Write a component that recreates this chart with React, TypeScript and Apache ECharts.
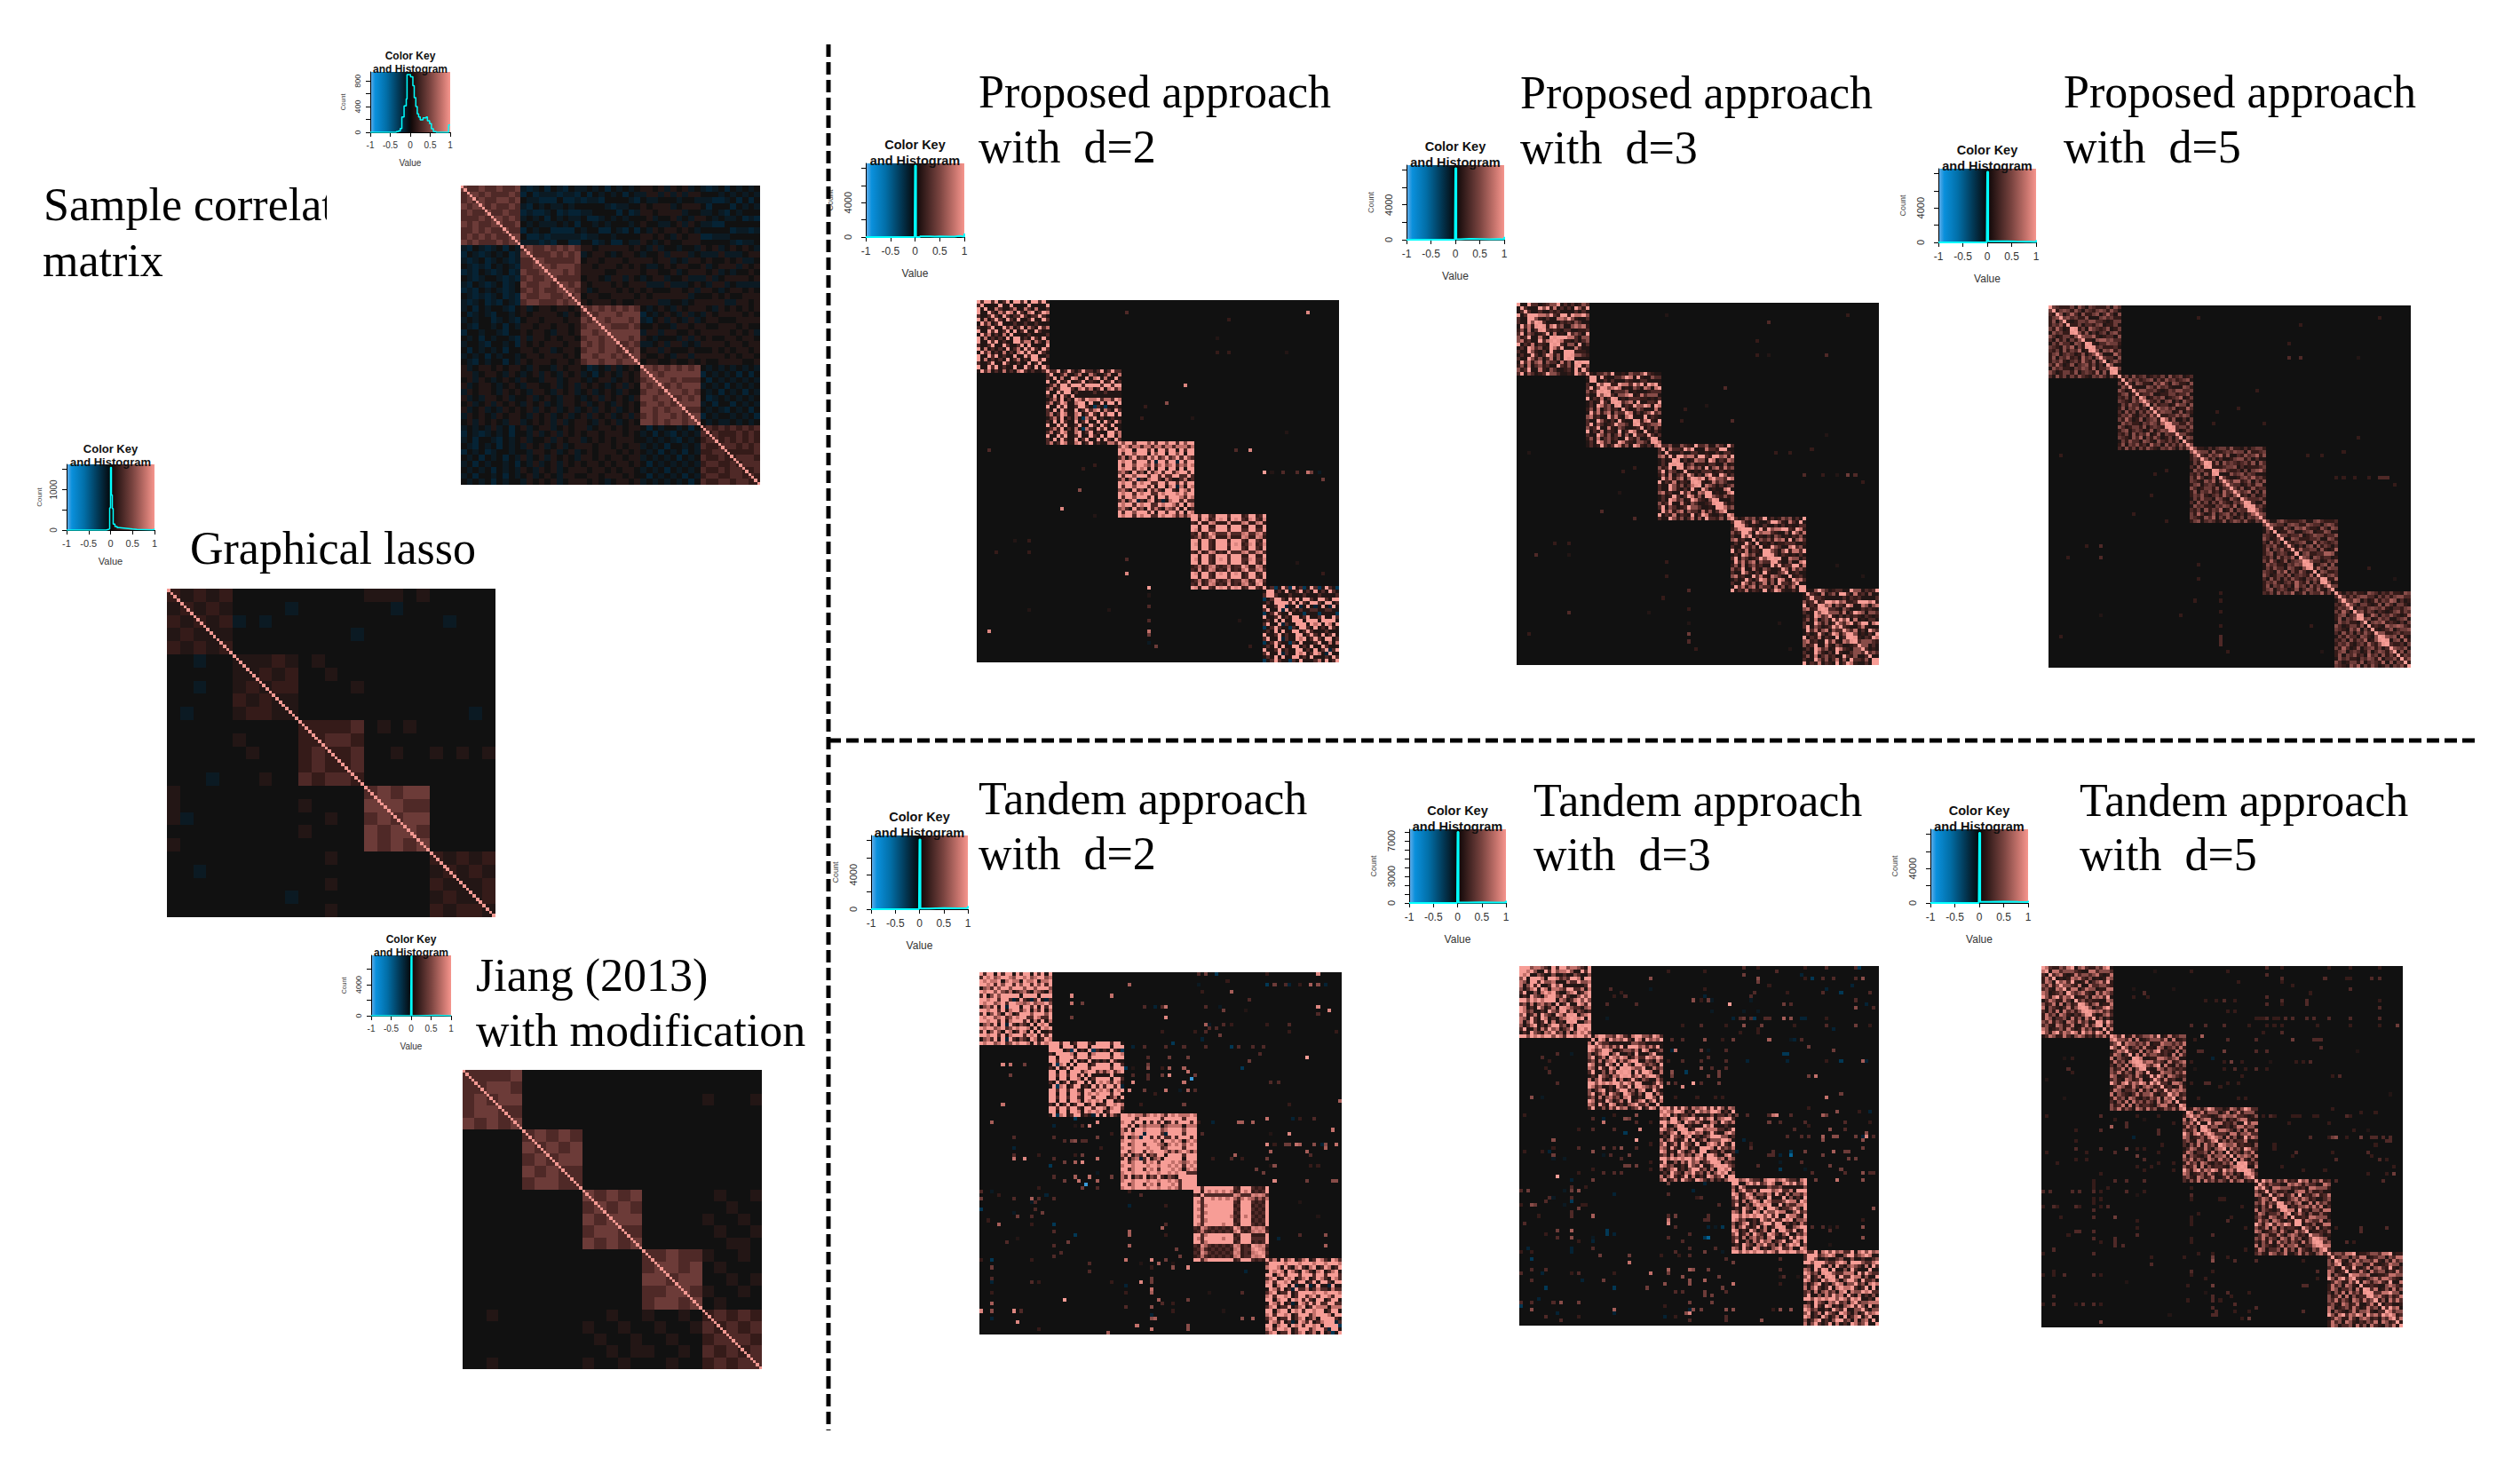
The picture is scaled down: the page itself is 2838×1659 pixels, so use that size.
import React, { useEffect, useRef } from "react";
import * as echarts from "echarts";

// Correlation levels: digit d means d/9, letters are negative values.
const NEGATIVE: Record<string, number> = { a: -0.1, b: -0.2, c: -0.35, d: -0.6, e: -0.9 };
const BLOCK_STARTS = [0, 19, 39, 59, 79];
const COLOR_SCALE = ["#5aa9e6", "#0680c0", "#025078", "#02283e", "#111111", "#3a1c1a", "#7a4440", "#bb6a64", "#f79d96"];

// Each block: a small dictionary of estimated rows (r) and which row each position uses (t). The matrix is symmetric.
type Block = { r: string[]; t: string };
const P2_B: Block[] = [
  { r: ["91193 91311 91193 191139", "31139 11931 13119 131191", "91713 13191 37131 971119", "19371 31713 17931 311371"], t: "012012310320123021032" },
  { r: ["91193 91139 11931 919119", "31919 31191 39119 193191", "37139 71179 13913 117739", "13729 13171 c7319 371371"], t: "021032013201231032012" },
  { r: ["93995 99939 19939 939199", "57319 35193 73175 391731", "97993 97993 39799 737379", "37159 b3179 13b17 919b71"], t: "012032021032012032102" },
  { r: ["99299 32999 39992 399329", "32823 87232 82327 832872", "98299 32989 39892 399329", "23723 78323 72338 723783"], t: "021021302010203120312" },
  { r: ["91139 13119 91319 131939", "13191 91199 13191 113191", "39119 b3119 79139 71b319", "c1393 11c31 91113 719139"], t: "012310230123102310213" },
];
const T2_B: Block[] = [
  { r: ["97995 79359 79971 939799", "39159 51971 39719 153953", "99799 39179 99397 919399", "15739 19b93 15319 713c17"], t: "010230120321023012301" },
  { r: ["99399 39931 99399 717939", "31913 91399 13913 391391", "99199 19971 97979 139997", "19c79 13991 31b91 917319"], t: "020120312021302021023" },
  { r: ["99379 93979 39997 939979", "73915 39153 93153 191539", "79979 99799 79979 739997", "39157 b3915 71399 1b3513"], t: "102012320201302021202" },
  { r: ["99379 99999 92399 932329", "32863 23232 38723 278782", "97399 99979 93299 973239", "23732 32323 27823 387873"], t: "021020202021302013130" },
  { r: ["99179 91979 39979 199739", "37913 39137 91371 913c17", "79399 79139 99379 93b979", "19739 13b19 73913 791319"], t: "012301203120310213021" },
];
const P3_ROWS = ["52391 17215 31123 192351", "31195 21319 21135 531215", "91327 13219 13972 113192", "25171 35231 19325 113153", "13129 31397 25197 213179", "39153 12395 53112 195327", "31195 25137 15193 325171", "57231 19372 17531 172397", "13197 35129 73215 531713", "19372 57153 31725 137125"];
const P5_ROWS = ["24352 13426 32514 253142", "32415 24361 25143 362415", "53124 42513 43261 514324", "14253 31542 15324 241536", "42631 25134 52413 136245", "25143 52316 34152 425313", "31524 14253 21435 314251", "43215 36142 53124 143526", "15342 21435 42613 352141", "24513 43125 13542 521436"];
const T3_ROWS = ["97351 13195 39115 573591", "35171 57351 79113 197159", "71593 13917 13197 359113", "59137 19531 97315 131597", "13195 31759 35171 597135", "97131 95137 19137 915179", "39115 17395 71359 139715", "75193 19713 15793 371153", "51379 13159 93517 157131", "99597 97995 97399 799579"];
const T5_ROWS = ["53725 31752 73512 536271", "27351 75213 25371 752315", "71532 13725 57213 371526", "35217 52371 13725 215737", "13752 27315 75231 537213", "52371 71523 32157 723152", "27513 35172 51732 153727", "75123 52731 27351 315725", "31527 17352 53172 571326", "95279 37597 29573 972957"];
const P3_T = ["048261935072814693051", "739150624839715026384", "261748053926174805926", "859301746285930174692", "594027183659427081362"];
const P5_T = ["371950482637195048263", "604829173560482917356", "925036814792503681479", "148372605914837260591", "763104958276310495827"];
const T3_T = ["190372864915037286491", "642908315764290831576", "375196084237519608423", "908253164790825316479", "216947035821694703582"];
const T5_T = ["528160379452816037945", "073946218507394621850", "846201597384620159738", "319574082631957408263", "685037294168503729416"];

// Cells beside the diagonal that are bright, [position] means (i, i-1).
const P3_NEAR = [6, 7, 10, 11, 15, 17, 24, 25, 27, 28, 33, 38, 44, 45, 49, 50, 55, 62, 70, 71, 84, 85, 93];
const P5_NEAR = [7, 11, 12, 18, 33, 34, 44, 46, 55, 56, 71, 72, 76, 86, 92, 93];
const T3_NEAR = [12, 14, 15, 17, 29, 30, 33, 45, 46, 55, 56, 72, 73, 85, 86, 87];
const T5_NEAR = [11, 12, 13, 16, 26, 27, 28, 45, 55, 56, 57, 66, 67, 76, 77, 90, 91];

// Isolated cells outside the blocks, [row, column, level], mirrored over the diagonal.
const P2_OUT: [number, number, string][] = [[3,41,"3"],[3,91,"8"],[5,69,"2"],[10,66,"1"],[14,66,"2"],[14,69,"2"],[14,85,"1"],[23,57,"8"],[28,52,"5"],[29,46,"2"],[32,45,"2"],[32,59,"1"],[36,85,"1"],[41,71,"3"],[41,75,"8"],[47,79,"9"],[47,81,"1"],[47,84,"3"],[47,88,"3"],[47,91,"7"],[47,92,"4"],[47,94,"a"],[49,95,"4"],[72,88,"1"],[75,95,"2"]];
const P3_OUT: [number, number, string][] = [[3,41,"1"],[3,91,"2"],[5,69,"3"],[10,66,"2"],[14,66,"2"],[14,69,"1"],[14,85,"3"],[23,57,"3"],[28,52,"1"],[29,46,"2"],[32,45,"2"],[32,59,"3"],[36,85,"1"],[41,71,"2"],[41,75,"2"],[40,81,"2"],[47,79,"3"],[47,84,"2"],[47,88,"1"],[47,91,"4"],[47,93,"3"],[49,95,"2"],[72,88,"1"],[75,95,"1"]];
const P5_OUT: [number, number, string][] = [[3,41,"2"],[3,91,"2"],[5,69,"2"],[10,66,"2"],[14,66,"3"],[14,69,"3"],[14,85,"1"],[23,57,"2"],[28,52,"2"],[29,46,"2"],[32,45,"2"],[32,59,"2"],[36,85,"2"],[41,71,"2"],[41,75,"2"],[40,81,"2"],[47,79,"2"],[47,81,"2"],[47,84,"2"],[47,88,"2"],[47,91,"3"],[47,92,"3"],[47,93,"3"],[49,95,"2"],[72,88,"2"],[75,95,"1"]];
const T2_OUT: [number, number, string][] = [[3,41,"6"],[3,60,"a"],[3,79,"c"],[3,81,"4"],[3,84,"3"],[3,85,"b"],[3,88,"2"],[3,91,"6"],[3,93,"5"],[3,95,"b"],[0,60,"3"],[0,62,"4"],[0,65,"c"],[0,79,"2"],[0,93,"8"],[2,68,"2"],[6,25,"8"],[6,36,"7"],[8,25,"7"],[8,28,"4"],[5,69,"6"],[5,61,"2"],[7,74,"3"],[9,45,"3"],[9,48,"b"],[9,50,"3"],[9,51,"7"],[9,62,"3"],[9,66,"a"],[9,93,"8"],[12,25,"4"],[12,51,"8"],[10,67,"4"],[10,73,"1"],[10,96,"8"],[11,93,"3"],[14,62,"6"],[14,63,"a"],[14,67,"3"],[14,69,"2"],[14,79,"2"],[14,85,"3"],[16,62,"3"],[15,63,"3"],[15,65,"3"],[16,50,"2"],[16,59,"2"],[16,85,"2"],[16,98,"2"],[17,66,"4"],[18,61,"b"],[20,42,"b"],[20,45,"3"],[20,51,"3"],[19,53,"c"],[20,56,"3"],[20,62,"3"],[20,69,"c"],[20,71,"3"],[20,75,"3"],[20,78,"3"],[22,77,"3"],[23,46,"3"],[23,52,"4"],[23,57,"4"],[23,90,"9"],[24,74,"4"],[25,46,"4"],[26,72,"c"],[26,40,"c"],[26,42,"1"],[26,46,"5"],[26,50,"2"],[26,52,"6"],[26,56,"6"],[27,57,"7"],[28,42,"3"],[28,46,"3"],[28,50,"4"],[28,52,"8"],[28,59,"4"],[29,46,"3"],[30,56,"7"],[29,58,"e"],[30,42,"8"],[30,80,"3"],[30,82,"3"],[32,41,"8"],[32,45,"4"],[32,51,"7"],[32,55,"a"],[32,57,"6"],[32,59,"3"],[33,48,"2"],[36,44,"2"],[36,56,"4"],[36,85,"2"],[35,99,"6"],[41,60,"2"],[41,64,"b"],[41,71,"6"],[41,72,"6"],[41,75,"6"],[40,79,"7"],[40,86,"b"],[40,88,"2"],[40,92,"3"],[44,61,"3"],[44,85,"8"],[44,80,"1"],[43,97,"7"],[47,79,"8"],[47,81,"2"],[47,84,"4"],[47,85,"4"],[47,87,"7"],[47,88,"6"],[47,92,"5"],[47,95,"5"],[47,98,"7"],[47,94,"b"],[49,80,"6"],[49,90,"6"],[50,91,"3"],[48,95,"6"],[50,70,"6"],[51,69,"3"],[51,64,"2"],[51,72,"2"],[51,79,"4"],[53,81,"5"],[53,91,"2"],[53,93,"2"],[53,80,"1"],[54,76,"4"],[55,78,"4"],[57,81,"8"],[57,90,"4"],[57,97,"5"],[57,98,"5"],[63,88,"1"],[67,93,"1"],[72,88,"3"],[72,95,"5"],[73,82,"b"],[75,95,"6"]];
const T3_OUT: [number, number, string][] = [[0,62,"3"],[1,41,"2"],[1,51,"2"],[0,66,"2"],[0,79,"2"],[0,85,"3"],[0,94,"c"],[0,93,"3"],[3,36,"5"],[2,62,"4"],[3,66,"5"],[1,71,"3"],[2,78,"b"],[3,81,"c"],[3,79,"2"],[3,84,"3"],[3,87,"3"],[3,93,"3"],[3,95,"5"],[4,66,"4"],[5,69,"2"],[5,92,"b"],[6,25,"3"],[6,36,"a"],[6,51,"2"],[6,85,"b"],[7,28,"2"],[7,65,"3"],[7,74,"2"],[7,84,"3"],[7,89,"c"],[7,97,"3"],[8,26,"2"],[8,29,"3"],[8,51,"b"],[8,64,"3"],[9,48,"5"],[9,50,"2"],[9,52,"4"],[9,53,"a"],[9,64,"a"],[10,73,"4"],[10,75,"3"],[9,93,"3"],[10,32,"3"],[10,24,"3"],[10,58,"9"],[10,96,"b"],[11,98,"3"],[11,93,"5"],[14,24,"a"],[12,53,"a"],[12,62,"a"],[12,66,"a"],[14,59,"b"],[14,61,"3"],[14,62,"4"],[14,64,"3"],[14,65,"c"],[14,68,"3"],[14,69,"3"],[14,73,"6"],[14,75,"5"],[14,78,"b"],[14,79,"b"],[14,85,"2"],[16,45,"2"],[16,50,"3"],[16,57,"2"],[16,62,"5"],[16,67,"4"],[16,76,"2"],[16,85,"3"],[16,93,"4"],[16,97,"2"],[17,87,"b"],[17,66,"2"],[18,61,"2"],[18,66,"2"],[20,42,"3"],[20,45,"3"],[20,51,"5"],[20,56,"2"],[20,59,"4"],[20,69,"6"],[20,76,"b"],[20,75,"a"],[20,78,"3"],[23,42,"b"],[23,43,"7"],[23,50,"4"],[23,52,"a"],[23,57,"3"],[22,80,"4"],[23,87,"4"],[24,73,"c"],[24,74,"c"],[26,41,"2"],[26,45,"3"],[26,50,"3"],[25,52,"3"],[26,57,"3"],[26,63,"b"],[26,74,"b"],[26,85,"2"],[26,89,"c"],[26,95,"6"],[26,96,"b"],[28,50,"5"],[28,53,"3"],[28,57,"3"],[29,42,"5"],[29,46,"c"],[29,55,"4"],[30,42,"4"],[30,52,"4"],[30,55,"4"],[30,80,"4"],[30,82,"6"],[32,41,"5"],[32,48,"9"],[33,45,"8"],[32,50,"3"],[32,55,"4"],[32,43,"3"],[36,43,"2"],[36,49,"2"],[36,54,"2"],[36,56,"2"],[36,85,"7"],[35,89,"4"],[41,60,"4"],[41,63,"4"],[41,70,"7"],[41,71,"7"],[41,75,"3"],[39,80,"2"],[41,84,"6"],[40,88,"5"],[40,94,"2"],[40,97,"b"],[43,69,"4"],[43,72,"3"],[43,79,"3"],[43,90,"3"],[43,97,"2"],[45,76,"5"],[45,86,"6"],[45,90,"3"],[44,80,"2"],[47,74,"3"],[47,78,"3"],[47,80,"3"],[47,84,"6"],[47,87,"5"],[47,88,"5"],[47,93,"4"],[47,95,"b"],[46,96,"5"],[47,98,"3"],[48,62,"c"],[48,84,"5"],[48,95,"5"],[50,64,"3"],[51,70,"5"],[51,79,"4"],[51,87,"7"],[51,90,"4"],[51,91,"4"],[50,95,"4"],[51,60,"b"],[52,70,"3"],[52,72,"b"],[52,75,"d"],[52,84,"4"],[53,91,"4"],[53,93,"4"],[52,69,"3"],[54,72,"a"],[54,78,"3"],[55,86,"4"],[55,66,"3"],[56,72,"c"],[56,79,"a"],[56,89,"4"],[57,95,"5"],[57,97,"3"],[57,98,"3"],[57,90,"3"],[57,81,"3"],[59,82,"3"],[59,88,"7"],[59,95,"5"],[67,98,"5"],[70,95,"2"],[72,81,"3"],[72,84,"3"],[72,86,"1"],[72,88,"2"],[72,95,"5"],[73,86,"3"],[75,95,"5"],[77,86,"1"],[63,41,"3"],[62,48,"b"],[64,49,"2"],[66,55,"3"],[69,41,"3"],[69,43,"4"],[71,41,"8"],[70,51,"3"],[69,52,"3"],[72,56,"c"],[75,51,"c"],[76,45,"3"],[96,47,"8"],[85,41,"4"],[88,40,"5"],[88,59,"7"],[82,30,"7"],[82,59,"4"],[86,45,"5"],[85,36,"7"],[87,51,"6"]];
const T5_OUT: [number, number, string][] = [[0,62,"3"],[0,66,"2"],[1,31,"1"],[1,41,"2"],[1,51,"2"],[0,79,"2"],[0,85,"2"],[0,93,"2"],[2,62,"3"],[3,66,"3"],[3,78,"3"],[3,84,"2"],[3,85,"2"],[3,91,"3"],[3,93,"3"],[4,54,"2"],[4,66,"2"],[5,69,"2"],[6,25,"1"],[6,36,"1"],[6,85,"3"],[7,28,"3"],[7,74,"2"],[8,25,"2"],[8,29,"2"],[8,62,"3"],[9,45,"2"],[9,48,"2"],[9,50,"3"],[9,53,"2"],[9,66,"3"],[9,73,"3"],[9,93,"2"],[10,62,"3"],[10,66,"2"],[10,73,"3"],[11,93,"3"],[12,51,"2"],[12,53,"2"],[14,59,"2"],[14,60,"2"],[14,61,"2"],[14,62,"3"],[14,64,"2"],[14,65,"2"],[14,67,"3"],[14,69,"3"],[14,73,"3"],[14,75,"3"],[14,79,"3"],[14,85,"3"],[14,93,"3"],[16,41,"3"],[16,45,"3"],[16,50,"3"],[16,57,"2"],[16,62,"2"],[16,64,"2"],[16,66,"2"],[16,76,"2"],[16,85,"2"],[16,93,"2"],[16,98,"4"],[18,61,"2"],[18,66,"3"],[20,42,"2"],[19,44,"6"],[20,51,"3"],[20,59,"3"],[20,69,"4"],[20,75,"3"],[20,76,"3"],[20,77,"3"],[23,43,"3"],[23,44,"3"],[23,50,"4"],[23,59,"3"],[23,62,"3"],[22,77,"3"],[23,87,"1"],[25,47,"b"],[26,41,"2"],[26,50,"2"],[26,52,"4"],[26,55,"2"],[26,63,"1"],[26,70,"2"],[26,72,"2"],[26,74,"3"],[28,42,"1"],[28,50,"2"],[28,53,"3"],[28,56,"2"],[28,59,"3"],[28,62,"2"],[30,55,"2"],[30,80,"2"],[30,82,"3"],[32,41,"2"],[32,45,"3"],[32,46,"3"],[32,51,"2"],[32,54,"2"],[33,49,"2"],[36,43,"2"],[36,54,"2"],[36,56,"2"],[35,96,"1"],[41,61,"2"],[41,64,"2"],[41,70,"2"],[41,75,"2"],[39,80,"2"],[41,84,"3"],[40,88,"2"],[40,92,"2"],[43,68,"2"],[43,79,"2"],[45,86,"2"],[45,90,"1"],[47,74,"3"],[47,79,"2"],[47,80,"4"],[47,84,"2"],[47,88,"2"],[47,91,"3"],[47,92,"3"],[47,94,"3"],[47,96,"3"],[48,95,"3"],[50,64,"2"],[51,70,"3"],[51,80,"2"],[51,90,"3"],[52,91,"2"],[53,81,"3"],[53,93,"3"],[53,95,"2"],[55,66,"3"],[56,78,"2"],[57,90,"2"],[57,95,"2"],[57,97,"4"],[59,81,"3"],[63,41,"3"],[64,49,"2"],[66,55,"2"],[69,41,"2"],[69,52,"2"],[71,41,"2"],[72,56,"2"],[72,95,"3"],[72,81,"2"],[72,88,"3"],[73,88,"3"],[76,41,"2"],[76,84,"3"],[76,86,"2"],[81,47,"5"],[85,41,"2"],[88,40,"2"],[88,47,"4"],[96,47,"3"],[96,48,"3"],[97,55,"2"],[92,49,"2"],[94,59,"3"]];

// Coarse averages of the low-contrast panels (lower triangles, one group per block).
const SAMPLE_COARSE = [
"4","34","343","4344","34334","333434","4343344","33434334","343434334","4343334344",
"ab0ab a0b0a 3","b0aba 0a0ba 44","aba0b a0aba 334","0abab 0a0ab 3344","bab0a ba0ba 43344","0aba0 0abab 343344","ab0ab a0ba0 4334434","bab0a 0aba0 34343344","0abab a0bab 433443343","aba0b ab0ab 3443334344",
"a0b0a 00ab0 1a011 01101 4","0ba0a b00a0 10111 10a10 34","a0a00 ba0ab 01101 11011 434","0ab00 a0b0a 11011 01101 3444","b00a0 0ab00 10110 a1101 44344","0a0b0 a00ab 1a110 10110 344344","a00ab 00a0b 10101 11011 4343443","0b0a0 a0b00 11011 a0110 34434434","a0a0b 0a00a 01101 11010 443443434","0ab0a 00b0a 10111 01101 3443443444",
"1a011 01011 0a100 a1011 0ba0a 1a010 4","11a01 10a10 a01a1 0a101 a0b01 0a101 44","01a10 a010a 100a1 1a011 0a011 a0101 344","1a011 0a010 a1100 1a01a 1010a 01a10 4344","a1011 0a101 0a110 a101a 01a01 0a100 34434","1a0a1 101a0 01a01 0a110 a01a1 010a1 443443","01a01 a1010 a101a 0a110 1a010 a1010 3443434","1a01a 0a101 01a10 1a01a 01a10 1a010 44343443","a1010 a1011 0a101 a01a0 1a101 a01a1 343443434","01a10 10a11 a0101 a1a01 10a10 1a010 4434344344",
"a0a0a 1a0b0 1a011 a0101 1a011 01011 0b0a0 0a0b0 2","b0aba 0a0b0 0a1a0 1a101 01101 11010 a0b0a b0a0a 32","a0b00 ab0a0 1a001 a1011 a0101 01110 0a0a0 ab0a0 233","0ab0a 0b0a0 a101a 01a01 11011 01011 a0a0b 00a0a 3223","b0a0b a00a0 0a110 1a01a 01011 10101 0a0b0 a0b0a 22332","0a0b0 a0b0a 1a01a 1010a 11010 11011 a0a0a 0b0a0 322322","a0b0a 00a0b 0a1a0 1a101 01101 01101 0b0a0 a0a0a 2332232","0a0a0 b0a0a 10a10 1a011 10110 10110 a0a0b 0a0a0 32232332","a0b00 a0b0a 01a01 0a110 01101 11010 0b0a0 a0b0a 233223323","0a0a0 b0a00 a1010 1a011 1010a 01101 a0a0a 0a0b0 3223323322",
];
const LASSO_COARSE = [
"2","12","212","1211","21212",
"00a00 1","00000 11","00a00 121","00000 2121","0a000 12211",
"00000 00000 2","00000 10000 22","00000 01000 232","00000 00000 2322","000a0 00100 32332",
"10000 00000 00000 3","10000 00000 10000 44","1a000 00000 00100 343","00000 00000 10000 4344","10000 00000 00000 43434",
"00000 00000 00100 00000 2","00a00 00000 00000 00000 12","00000 00000 00100 00000 211","00000 0000a 00000 00000 1211","00000 00000 00100 00000 21221",
];
const JIANG_COARSE = [
"3","33","343","3443","43434",
"00000 3","00000 43","00000 343","00000 4343","00000 34433",
"00000 00000 4","00000 00000 34","00000 00000 434","00000 00000 3443","00000 00000 43434",
"00000 00000 00000 3","00000 00000 00000 34","00000 00000 00000 443","00000 00000 00000 3344","00000 00000 00000 34434",
"00100 00000 00100 10010 2","00000 00000 10010 01001 32","00000 00000 01001 00100 233","00000 00000 00101 10010 3232","00100 00000 10010 00100 23233",
];

const SAMPLE_HIST = [[-1,0],[-0.4,0],[-0.35,10],[-0.3,20],[-0.25,60],[-0.21,240],[-0.154,410],[-0.1,518],[-0.08,897],[0.007,865],[0.066,725],[0.1,540],[0.14,400],[0.176,287],[0.21,240],[0.25,194],[0.32,226],[0.4,240],[0.43,180],[0.485,134],[0.53,55],[0.58,10],[0.65,0],[0.96,115],[1,115]];
const LASSO_HIST = [[-1,0],[-0.2,0],[-0.1,15],[-0.05,30],[-0.02,550],[0,1547],[0.02,870],[0.04,530],[0.06,150],[0.1,90],[0.15,60],[0.2,50],[0.3,40],[0.4,25],[0.5,15],[0.6,5],[0.95,10],[0.99,40],[1,40]];
const JIANG_HIST = [[-1,0],[-0.01,0],[0,7700],[0.02,0],[0.18,60],[0.62,0],[1,0]];
const P2_HIST = [[-1,0],[-0.01,0],[0,8300],[0.02,0],[0.1,80],[0.3,60],[0.4,80],[0.5,40],[0.7,60],[0.8,120],[0.9,60],[1,400]];
const P3_HIST = [[-1,0],[-0.01,0],[0,8200],[0.02,60],[0.1,100],[0.3,80],[0.5,60],[0.7,80],[0.9,60],[1,320]];
const P5_HIST = [[-1,0],[-0.01,0],[0,8200],[0.02,120],[0.2,140],[0.4,100],[0.6,80],[0.8,60],[1,260]];
const T2_HIST = [[-1,0],[-0.01,0],[0,8100],[0.02,80],[0.2,120],[0.5,100],[0.8,120],[1,360]];
const T3_HIST = [[-1,0],[-0.01,0],[0,8000],[0.02,60],[0.2,80],[0.5,50],[0.8,60],[1,260]];
const T5_HIST = [[-1,0],[-0.01,0],[0,8150],[0.02,140],[0.2,160],[0.5,120],[0.8,100],[1,260]];

const TITLES: [string, number, number][] = [
  ["Sample correlat", 49, 230], ["matrix", 48, 293], ["Graphical lasso", 214, 617],
  ["Jiang (2013)", 536, 1098], ["with modification", 536, 1160],
  ["Proposed approach", 1102, 103], ["with  d=2", 1102, 165],
  ["Proposed approach", 1712, 104], ["with  d=3", 1712, 166],
  ["Proposed approach", 2324, 103], ["with  d=5", 2324, 165],
  ["Tandem approach", 1102, 899], ["with  d=2", 1102, 961],
  ["Tandem approach", 1727, 901], ["with  d=3", 1727, 962],
  ["Tandem approach", 2342, 901], ["with  d=5", 2342, 962],
];

const level = (ch: string) => (ch in NEGATIVE ? NEGATIVE[ch] : Number(ch) / 9);
const clean = (s: string) => s.replace(/ /g, "");

function buildBlocks(blocks: Block[], outliers: [number, number, string][], near: number[] = []) {
  const cells: number[][] = [];
  blocks.forEach((block, b) => {
    const s = BLOCK_STARTS[b];
    const types = block.t;
    const size = b === 0 ? 20 : 21;
    for (let i = 0; i < size; i++) {
      const row = clean(block.r[Number(types[i])]);
      for (let j = 0; j < i; j++) {
        const v = level(row[j]);
        if (v === 0) continue;
        cells.push([s + j, s + i, v], [s + i, s + j, v]);
      }
      cells.push([s + i, s + i, 1]);
    }
  });
  outliers.forEach(([r, c, l]) => cells.push([c, r, level(l)], [r, c, level(l)]));
  near.forEach((i) => cells.push([i, i - 1, 0.95], [i - 1, i, 0.95]));
  return cells;
}
const shared = (rows: string[], types: string[]): Block[] => types.map((t) => ({ r: rows, t }));
function buildCoarse(rows: string[]) {
  const cells: number[][] = [];
  rows.forEach((raw, i) => {
    const row = clean(raw);
    for (let j = 0; j <= i && j < row.length; j++) {
      const v = level(row[j]);
      if (i !== j) cells.push([i, j, v]);
      cells.push([j, i, v]);
    }
  });
  return cells;
}

const range = (n: number) => Array.from({ length: n }, (_, i) => i);
const DIAGONAL = range(100).map((i) => [i, i, 0.98]);

type Panel = { x: number; y: number; s: number; cells: number[][]; coarse?: number };
const PANELS: Panel[] = [
  { x: 519, y: 209, s: 337, cells: buildCoarse(SAMPLE_COARSE), coarse: 50 },
  { x: 188, y: 663, s: 370, cells: buildCoarse(LASSO_COARSE), coarse: 25 },
  { x: 521, y: 1205, s: 337, cells: buildCoarse(JIANG_COARSE), coarse: 25 },
  { x: 1100, y: 338, s: 408, cells: buildBlocks(P2_B, P2_OUT) },
  { x: 1708, y: 341, s: 408, cells: buildBlocks(shared(P3_ROWS, P3_T), P3_OUT, P3_NEAR) },
  { x: 2307, y: 344, s: 408, cells: buildBlocks(shared(P5_ROWS, P5_T), P5_OUT, P5_NEAR) },
  { x: 1103, y: 1095, s: 408, cells: buildBlocks(T2_B, T2_OUT) },
  { x: 1711, y: 1088, s: 405, cells: buildBlocks(shared(T3_ROWS, T3_T), T3_OUT, T3_NEAR) },
  { x: 2299, y: 1088, s: 407, cells: buildBlocks(shared(T5_ROWS, T5_T), T5_OUT, T5_NEAR) },
];

type Key = { x: number; y: number; w: number; h: number; max: number; step: number; labels: number[]; hist: number[][] };
const KEYS: Key[] = [
  { x: 417, y: 81, w: 90, h: 68, max: 940, step: 200, labels: [0, 400, 800], hist: SAMPLE_HIST },
  { x: 75, y: 523, w: 99, h: 74, max: 1625, step: 500, labels: [0, 1000], hist: LASSO_HIST },
  { x: 418, y: 1076, w: 90, h: 68, max: 7770, step: 2000, labels: [0, 4000], hist: JIANG_HIST },
  { x: 975, y: 184, w: 111, h: 83, max: 8560, step: 2000, labels: [0, 4000], hist: P2_HIST },
  { x: 1584, y: 186, w: 110, h: 84, max: 8560, step: 2000, labels: [0, 4000], hist: P3_HIST },
  { x: 2183, y: 190, w: 110, h: 83, max: 8560, step: 2000, labels: [0, 4000], hist: P5_HIST },
  { x: 981, y: 941, w: 109, h: 83, max: 8560, step: 2000, labels: [0, 4000], hist: T2_HIST },
  { x: 1587, y: 934, w: 109, h: 83, max: 8300, step: 1000, labels: [0, 3000, 7000], hist: T3_HIST },
  { x: 2174, y: 934, w: 110, h: 83, max: 8560, step: 2000, labels: [0, 4000], hist: T5_HIST },
];

const SANS = "Liberation Sans";
const SERIF = "Liberation Serif";

const renderCell = (_: any, api: any) => {
  const c = api.coord([api.value(0), api.value(1)]);
  const size = api.size([1, 1]);
  const w = Math.abs(size[0]) / 2, h = Math.abs(size[1]) / 2;
  const x0 = Math.round(c[0] - w), x1 = Math.round(c[0] + w), y0 = Math.round(c[1] - h), y1 = Math.round(c[1] + h);
  return { type: "rect", shape: { x: x0, y: y0, width: x1 - x0, height: y1 - y0 }, style: { fill: api.visual("color") } };
};

function buildOption() {
  const grid: any[] = [], xAxis: any[] = [], yAxis: any[] = [], series: any[] = [], heatIdx: number[] = [], graphic: any[] = [];
  const addHeat = (p: Panel, n: number, data: number[][], bg: string | undefined) => {
    const g = grid.length;
    grid.push({ left: p.x, top: p.y, width: p.s, height: p.s, show: !!bg, backgroundColor: bg, borderWidth: 0 });
    xAxis.push({ type: "category", gridIndex: g, data: range(n), show: false });
    yAxis.push({ type: "category", gridIndex: g, data: range(n), show: false, inverse: true });
    heatIdx.push(series.length);
    series.push({ type: "custom", xAxisIndex: g, yAxisIndex: g, data, renderItem: renderCell, encode: { x: 0, y: 1 }, progressive: 0, silent: true });
  };
  PANELS.forEach((p) => {
    if (p.coarse) {
      addHeat(p, p.coarse, p.cells, "#111111");
      addHeat(p, 100, DIAGONAL, undefined);
    } else {
      addHeat(p, 100, p.cells, "#111111");
    }
  });
  const gradient = new echarts.graphic.LinearGradient(0, 0, 1, 0, [
    { offset: 0, color: "#6db0ea" }, { offset: 0.06, color: "#0a90dc" }, { offset: 0.2, color: "#026fa8" },
    { offset: 0.35, color: "#023a58" }, { offset: 0.49, color: "#050a0e" }, { offset: 0.52, color: "#140a0a" },
    { offset: 0.75, color: "#7a4440" }, { offset: 0.9, color: "#c5736c" }, { offset: 1, color: "#f6958d" },
  ]);
  KEYS.forEach((k) => {
    const g = grid.length;
    const big = k.w > 105;
    const tick = big ? 12 : k.w > 95 ? 11 : 10;
    grid.push({ left: k.x, top: k.y, width: k.w, height: k.h, show: true, backgroundColor: gradient, borderWidth: 0 });
    xAxis.push({
      type: "value", gridIndex: g, min: -1, max: 1, interval: 0.5, splitLine: { show: false },
      axisLine: { onZero: false, lineStyle: { color: "#000", width: 1 } },
      axisTick: { length: 5, lineStyle: { color: "#000" } },
      axisLabel: { color: "#333", fontFamily: SANS, fontSize: tick, margin: big ? 10 : 9 },
      name: "Value", nameLocation: "middle", nameGap: big ? 35 : 29,
      nameTextStyle: { color: "#333", fontFamily: SANS, fontSize: tick },
    });
    yAxis.push({
      type: "value", gridIndex: g, min: 0, max: k.max, interval: k.step, splitLine: { show: false },
      axisLine: { show: true, onZero: false, lineStyle: { color: "#000", width: 1 } },
      axisTick: { show: true, length: 5, lineStyle: { color: "#000" } },
      axisLabel: { rotate: 90, color: "#333", fontFamily: SANS, fontSize: tick - 1, margin: big ? 15 : 10, showMaxLabel: false,
        formatter: (v: number) => (k.labels.includes(v) ? String(v) : "") },
      name: "Count", nameLocation: "middle", nameGap: big ? 36 : 27, nameRotate: 90,
      nameTextStyle: { color: "#444", fontFamily: SANS, fontSize: tick - 3 },
    });
    series.push({ type: "line", xAxisIndex: g, yAxisIndex: g, data: k.hist, step: "end", showSymbol: false, silent: true, lineStyle: { color: "#00ffff", width: big ? 2 : 1.5 } });
    const font = big ? 14.5 : k.w > 95 ? 13 : 12;
    const cx = k.x + k.w / 2;
    graphic.push({ type: "text", z: 50, x: cx, y: k.y - (big ? 21 : 18), style: { text: "Color Key", font: `bold ${font}px "${SANS}"`, fill: "#111", textAlign: "center", textVerticalAlign: "middle" } });
    graphic.push({ type: "text", z: 50, x: cx, y: k.y - 3, style: { text: "and Histogram", font: `bold ${font}px "${SANS}"`, fill: "#111", textAlign: "center", textVerticalAlign: "middle" } });
  });
  TITLES.forEach(([text, x, y]) => graphic.push({ type: "text", z: 50, x, y, style: { text, font: `52px "${SERIF}"`, fill: "#000", textAlign: "left", textVerticalAlign: "middle" } }));
  // The reference cuts the first title off at the edge of the neighbouring picture.
  graphic.push({ type: "rect", z: 55, shape: { x: 368, y: 200, width: 20, height: 60 }, style: { fill: "#fff" } });
  graphic.push({ type: "line", z: 60, shape: { x1: 933, y1: 50, x2: 933, y2: 1611 }, style: { stroke: "#000", lineWidth: 5, lineDash: [14, 6] } });
  graphic.push({ type: "line", z: 60, shape: { x1: 933, y1: 834, x2: 2790, y2: 834 }, style: { stroke: "#000", lineWidth: 5, lineDash: [14, 6] } });
  return {
    animation: false, backgroundColor: "#fff", grid, xAxis, yAxis, series, graphic,
    visualMap: { show: false, type: "continuous", min: -1, max: 1, dimension: 2, seriesIndex: heatIdx, inRange: { color: COLOR_SCALE } },
  };
}

export default function App() {
  const ref = useRef<HTMLDivElement>(null);
  useEffect(() => {
    document.body.style.margin = "0";
    const chart = echarts.init(ref.current!, undefined, { renderer: "svg" });
    chart.setOption(buildOption() as any);
    return () => chart.dispose();
  }, []);
  return <div ref={ref} style={{ width: 2838, height: 1659 }} />;
}
